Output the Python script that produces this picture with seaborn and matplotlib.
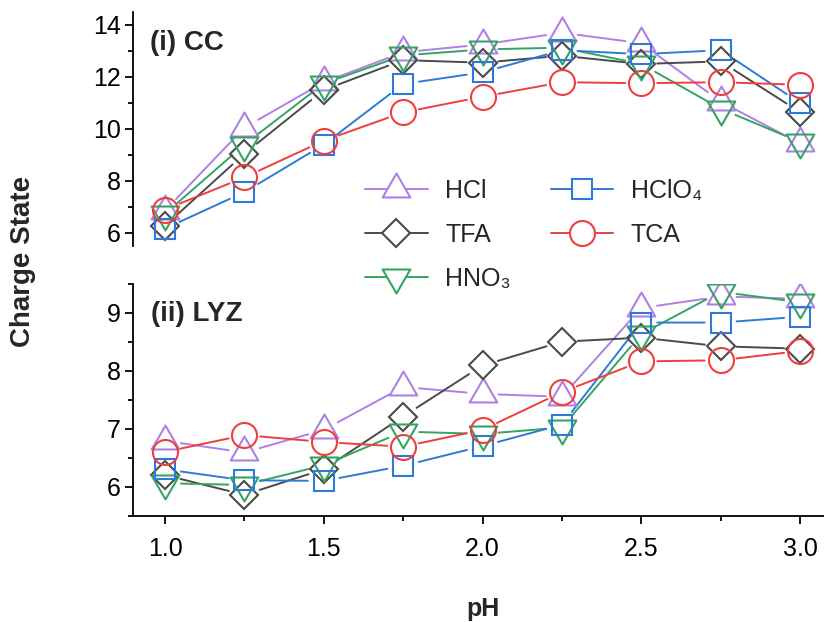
import matplotlib
matplotlib.use("Agg")
import matplotlib.pyplot as plt
import numpy as np
import pandas as pd
import seaborn as sns
from matplotlib.path import Path
from matplotlib.ticker import MultipleLocator

# pH values shared by both panels
ph = [1.0, 1.25, 1.5, 1.75, 2.0, 2.25, 2.5, 2.75, 3.0]
acids = ["HCl", "TFA", "HNO₃", "HClO₄", "TCA"]

# (i) CC average charge state
cc_hcl = [6.86, 10.05, 11.80, 12.95, 13.25, 13.70, 13.30, 11.05, 9.45]
cc_tfa = [6.28, 9.05, 11.50, 12.65, 12.55, 12.82, 12.50, 12.60, 10.65]
cc_hno3 = [6.74, 9.40, 11.75, 12.83, 13.06, 13.13, 12.50, 10.78, 9.50]
cc_hclo4 = [6.17, 7.57, 9.40, 11.73, 12.18, 13.03, 12.88, 13.03, 11.00]
cc_tca = [6.90, 8.14, 9.55, 10.64, 11.24, 11.80, 11.76, 11.80, 11.70]

# (ii) LYZ average charge state
lyz_hcl = [6.79, 6.59, 6.98, 7.72, 7.60, 7.55, 9.08, 9.28, 9.24]
lyz_tfa = [6.20, 5.86, 6.30, 7.21, 8.09, 8.50, 8.57, 8.42, 8.38]
lyz_hno3 = [6.06, 6.03, 6.37, 6.95, 6.91, 7.02, 8.63, 9.36, 9.18]
lyz_hclo4 = [6.30, 6.11, 6.10, 6.36, 6.70, 7.07, 8.83, 8.83, 8.93]
lyz_tca = [6.60, 6.89, 6.77, 6.69, 6.98, 7.63, 8.16, 8.18, 8.34]

cc_values = [cc_hcl, cc_tfa, cc_hno3, cc_hclo4, cc_tca]
lyz_values = [lyz_hcl, lyz_tfa, lyz_hno3, lyz_hclo4, lyz_tca]


def long_table(values):
    rows = []
    for acid, ys in zip(acids, values):
        for x, y in zip(ph, ys):
            rows.append({"pH": x, "charge": y, "acid": acid})
    return pd.DataFrame(rows)


cc_df = long_table(cc_values)
lyz_df = long_table(lyz_values)

sns.set_theme(style="ticks")
plt.rcParams["font.family"] = ["Liberation Sans", "DejaVu Sans"]
plt.rcParams["axes.edgecolor"] = "black"
plt.rcParams["xtick.color"] = "black"
plt.rcParams["ytick.color"] = "black"

# triangles centred on their centroid
codes = [Path.MOVETO, Path.LINETO, Path.LINETO, Path.CLOSEPOLY]
tri_up = Path([(0, 1), (-0.866, -0.5), (0.866, -0.5), (0, 1)], codes)
tri_down = Path([(0, -1), (-0.866, 0.5), (0.866, 0.5), (0, -1)], codes)

styles = {
    "HCl": dict(color="#B07FE4", marker=tri_up, ms=23),
    "TFA": dict(color="#4A4A4A", marker="D", ms=14.5),
    "HNO₃": dict(color="#34A462", marker=tri_down, ms=23),
    "HClO₄": dict(color="#2E7AD9", marker="s", ms=14.5),
    "TCA": dict(color="#EE3E3E", marker="o", ms=18),
}

W, H = 824, 622
fig = plt.figure(figsize=(W / 100, H / 100), dpi=100)
left = 133.25 / W
width = 698.5 / W
ax_top = fig.add_axes([left, 1 - 246 / H, width, 234 / H])
ax_bot = fig.add_axes([left, 1 - 515.7 / H, width, 232 / H])


def draw_panel(ax, df):
    for acid in acids:
        st = styles[acid]
        sub = df[df["acid"] == acid]
        sns.lineplot(data=sub, x="pH", y="charge", ax=ax, color=st["color"],
                     marker=st["marker"], markersize=st["ms"], mfc="none",
                     mec=st["color"], mew=1.5, linestyle="none",
                     estimator=None, sort=False, label=acid, legend=False,
                     zorder=3)
        xs = sub["pH"].to_numpy()
        ys = sub["charge"].to_numpy()
        # connecting segments that stop short of each symbol
        for i in range(len(xs) - 1):
            ax.annotate("", xy=(xs[i + 1], ys[i + 1]), xytext=(xs[i], ys[i]),
                        arrowprops=dict(arrowstyle="-", color=st["color"],
                                        lw=1.4, shrinkA=11.5, shrinkB=11.5),
                        zorder=2)
    ax.set_xlim(0.9, 3.1)
    ax.set_xlabel("")
    ax.set_ylabel("")
    ax.set_facecolor("none")
    for side in ("top", "right"):
        ax.spines[side].set_visible(False)
    for sp in ax.spines.values():
        sp.set_linewidth(1.3)
    ax.tick_params(which="major", direction="out", length=6, width=1.3,
                   labelsize=18, pad=3)
    ax.tick_params(which="minor", direction="out", length=3.5, width=1.3)


draw_panel(ax_top, cc_df)
draw_panel(ax_bot, lyz_df)

ax_top.set_ylim(5.5, 14.5)
ax_top.yaxis.set_major_locator(MultipleLocator(2))
ax_top.yaxis.set_minor_locator(MultipleLocator(1))
ax_top.spines["bottom"].set_visible(False)
ax_top.tick_params(axis="x", which="both", bottom=False, labelbottom=False)

ax_bot.set_ylim(5.5, 9.5)
ax_bot.yaxis.set_major_locator(MultipleLocator(1))
ax_bot.yaxis.set_minor_locator(MultipleLocator(0.5))
ax_bot.xaxis.set_major_locator(MultipleLocator(0.5))
ax_bot.xaxis.set_minor_locator(MultipleLocator(0.25))
ax_bot.set_xticks([1.0, 1.5, 2.0, 2.5, 3.0])
ax_bot.set_xticklabels(["1.0", "1.5", "2.0", "2.5", "3.0"])
ax_bot.tick_params(axis="x", which="major", pad=9)

fig.text(150 / W, 1 - 50 / H, "(i) CC", fontsize=20, fontweight="bold",
         va="baseline", ha="left")
fig.text(151 / W, 1 - 321 / H, "(ii) LYZ", fontsize=20, fontweight="bold",
         va="baseline", ha="left")
fig.text(23 / W, 1 - 261 / H, "Charge State", fontsize=20, fontweight="bold",
         rotation=90, va="center", ha="center")
fig.text(483 / W, 1 - 609 / H, "pH", fontsize=18, fontweight="bold",
         va="center", ha="center")

handles, labels = ax_top.get_legend_handles_labels()
leg = fig.legend(handles, labels, ncol=2, loc="upper left",
                 bbox_to_anchor=(365 / W, 1 - 179 / H), frameon=False,
                 fontsize=18, handlelength=2.5, handletextpad=0.7,
                 columnspacing=1.6, labelspacing=0.8, borderpad=0,
                 borderaxespad=0, numpoints=1)
for h in leg.legend_handles:
    h.set_linestyle("-")
    h.set_linewidth(1.4)
    h.set_markerfacecolor("white")

fig.savefig("out.png", dpi=100)
